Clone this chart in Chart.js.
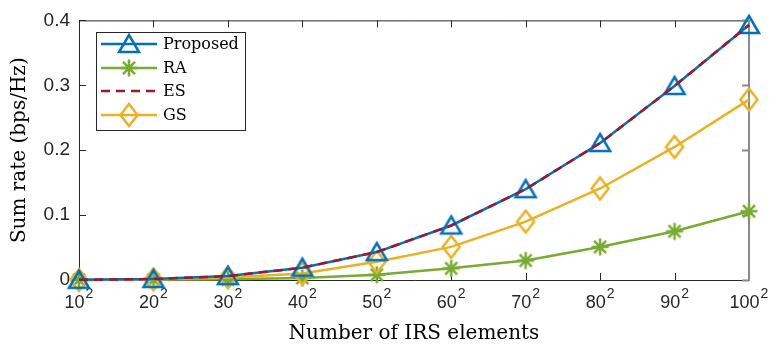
<!DOCTYPE html>
<html>
<head>
<meta charset="utf-8">
<script src="https://cdn.jsdelivr.net/npm/chart.js@4.4.0/dist/chart.umd.min.js"></script>
<style>
  html, body { margin: 0; padding: 0; background: #fff; }
</style>
</head>
<body>
<canvas id="myChart" width="774" height="346"></canvas>
<script>
// x categories: number of IRS elements is base^2
const categories = ["10", "20", "30", "40", "50", "60", "70", "80", "90", "100"];
const xExponent = "2";
const proposed = [0.0002, 0.0015, 0.006, 0.019, 0.043, 0.084, 0.140, 0.211, 0.299, 0.393];
const ra = [0.0, 0.0003, 0.001, 0.003, 0.008, 0.018, 0.030, 0.051, 0.075, 0.106];
const es = [0.0002, 0.0015, 0.006, 0.019, 0.043, 0.084, 0.140, 0.211, 0.299, 0.393];
const gs = [0.0001, 0.001, 0.004, 0.010, 0.028, 0.051, 0.090, 0.141, 0.205, 0.278];
const yTicks = [0, 0.1, 0.2, 0.3, 0.4];
const yTickLabels = ["0", "0.1", "0.2", "0.3", "0.4"];
const seriesNames = ["Proposed", "RA", "ES", "GS"];

const BLUE = "#0072BD", GREEN = "#77AC30", RED = "#A2142F", YELLOW = "#EDB120";
const AXIS = "#262626";
const SERIF = "'DejaVu Serif', 'Liberation Serif', serif";
const SANS = "'Liberation Sans', Arial, sans-serif";

// marker images (hollow, matlab style)
function makeMarker(kind, color) {
  const c = document.createElement("canvas");
  c.width = 28; c.height = 28;
  const g = c.getContext("2d");
  g.strokeStyle = color;
  g.lineWidth = 2.5;
  g.lineJoin = "miter";
  g.beginPath();
  if (kind === "tri") {
    g.moveTo(14, 5);
    g.lineTo(24, 22);
    g.lineTo(4, 22);
    g.closePath();
  } else if (kind === "dia") {
    g.moveTo(14, 3);
    g.lineTo(22.5, 14);
    g.lineTo(14, 25);
    g.lineTo(5.5, 14);
    g.closePath();
  } else if (kind === "star") {
    const r = 8.5;
    for (let i = 0; i < 4; i++) {
      const a = i * Math.PI / 4;
      g.moveTo(14 + r * Math.cos(a), 14 + r * Math.sin(a));
      g.lineTo(14 - r * Math.cos(a), 14 - r * Math.sin(a));
    }
  }
  g.stroke();
  return c;
}

const markers = {
  Proposed: makeMarker("tri", BLUE),
  RA: makeMarker("star", GREEN),
  ES: null,
  GS: makeMarker("dia", YELLOW),
};

// frame, inward ticks, x tick labels with exponent
const axesPlugin = {
  id: "axesPlugin",
  beforeDatasetsDraw(chart) {
    const { ctx, chartArea: a, scales } = chart;
    const x = scales.x, y = scales.y;
    const tl = 7;
    ctx.save();
    ctx.lineWidth = 1;
    ctx.strokeStyle = AXIS;
    ctx.beginPath();
    ctx.moveTo(a.left + 0.5, a.top + 0.5);
    ctx.lineTo(a.right, a.top + 0.5);
    ctx.moveTo(a.left + 0.5, a.top);
    ctx.lineTo(a.left + 0.5, a.bottom + 0.5);
    ctx.lineTo(a.right, a.bottom + 0.5);
    categories.forEach((c, i) => {
      const px = Math.round(x.getPixelForValue(i)) + 0.5;
      ctx.moveTo(px, a.bottom);
      ctx.lineTo(px, a.bottom - tl);
      ctx.moveTo(px, a.top);
      ctx.lineTo(px, a.top + tl);
    });
    yTicks.forEach((v) => {
      const py = Math.round(y.getPixelForValue(v)) + 0.5;
      ctx.moveTo(a.left, py);
      ctx.lineTo(a.left + tl, py);
    });
    ctx.stroke();
    // right side comes out lighter in the reference
    ctx.strokeStyle = "#8a8a8a";
    ctx.lineWidth = 2;
    ctx.beginPath();
    ctx.moveTo(a.right, a.top);
    ctx.lineTo(a.right, a.bottom + 1);
    yTicks.forEach((v) => {
      const py = Math.round(y.getPixelForValue(v)) + 0.5;
      ctx.moveTo(a.right, py);
      ctx.lineTo(a.right - tl, py);
    });
    ctx.stroke();

    // x tick labels: base + superscript
    ctx.fillStyle = AXIS;
    ctx.textBaseline = "alphabetic";
    categories.forEach((c, i) => {
      const px = x.getPixelForValue(i);
      ctx.font = "18px " + SANS;
      const wb = ctx.measureText(c).width;
      ctx.font = "14px " + SANS;
      const we = ctx.measureText(xExponent).width;
      const left = px - (wb + we + 1) / 2;
      ctx.font = "18px " + SANS;
      ctx.fillText(c, left, 308);
      ctx.font = "14px " + SANS;
      ctx.fillText(xExponent, left + wb + 1, 298);
    });
    ctx.restore();
  },
  afterDatasetsDraw(chart) {
    const { ctx } = chart;
    // legend box
    const bx = 96.5, by = 32.5, bw = 149, bh = 98;
    const rows = [44, 68, 91, 115];
    const colors = [BLUE, GREEN, RED, YELLOW];
    ctx.save();
    ctx.fillStyle = "#fff";
    ctx.fillRect(bx, by, bw, bh);
    ctx.strokeStyle = AXIS;
    ctx.lineWidth = 1;
    ctx.strokeRect(bx, by, bw, bh);
    seriesNames.forEach((name, i) => {
      const yy = rows[i];
      ctx.strokeStyle = colors[i];
      ctx.lineWidth = 2.5;
      ctx.setLineDash(name === "ES" ? [9, 6] : []);
      ctx.beginPath();
      ctx.moveTo(101, yy);
      ctx.lineTo(157, yy);
      ctx.stroke();
      ctx.setLineDash([]);
      const m = markers[name];
      if (m) ctx.drawImage(m, 129 - m.width / 2, yy - m.height / 2);
      ctx.fillStyle = "#000";
      ctx.font = "16px " + SERIF;
      ctx.textBaseline = "middle";
      ctx.fillText(name, 163, yy + 1);
    });
    ctx.restore();
  },
};

const ctx = document.getElementById("myChart");

new Chart(ctx, {
  type: "line",
  data: {
    labels: categories,
    datasets: [
      {
        label: "Proposed",
        data: proposed,
        borderColor: BLUE,
        borderWidth: 2.5,
        pointStyle: markers.Proposed,
        clip: false,
        order: 2,
      },
      {
        label: "RA",
        data: ra,
        borderColor: GREEN,
        borderWidth: 2.5,
        pointStyle: markers.RA,
        clip: false,
        order: 3,
      },
      {
        label: "ES",
        data: es,
        borderColor: RED,
        borderWidth: 2.5,
        borderDash: [9, 6],
        pointRadius: 0,
        clip: false,
        order: 1,
      },
      {
        label: "GS",
        data: gs,
        borderColor: YELLOW,
        borderWidth: 2.5,
        pointStyle: markers.GS,
        clip: false,
        order: 2,
      },
    ],
  },
  options: {
    responsive: false,
    animation: false,
    devicePixelRatio: 1,
    layout: { padding: { left: 0, right: 25, top: 18, bottom: 0 } },
    elements: { line: { tension: 0 } },
    plugins: {
      legend: { display: false },
      tooltip: { enabled: false },
    },
    scales: {
      x: {
        type: "category",
        offset: false,
        grid: { display: false, drawTicks: false },
        border: { display: false },
        ticks: { display: false },
        title: {
          display: true,
          text: "Number of IRS elements",
          font: { family: SERIF, size: 20 },
          color: "#000",
          padding: { top: 0, bottom: 0 },
        },
        afterFit(scale) {
          scale.height = 66;
        },
      },
      y: {
        min: 0,
        max: 0.4,
        grid: { display: false, drawTicks: false },
        border: { display: false },
        afterBuildTicks(scale) {
          scale.ticks = yTicks.map((v) => ({ value: v }));
        },
        ticks: {
          padding: 9,
          color: AXIS,
          font: { family: SANS, size: 19 },
          callback: function (value) {
            const i = yTicks.indexOf(value);
            return i >= 0 ? yTickLabels[i] : "";
          },
        },
        title: {
          display: true,
          text: "Sum rate (bps/Hz)",
          font: { family: SERIF, size: 20 },
          color: "#000",
          padding: { top: 8, bottom: 0 },
        },
        afterFit(scale) {
          scale.width = 79;
        },
      },
    },
  },
  plugins: [axesPlugin],
});
</script>
</body>
</html>
